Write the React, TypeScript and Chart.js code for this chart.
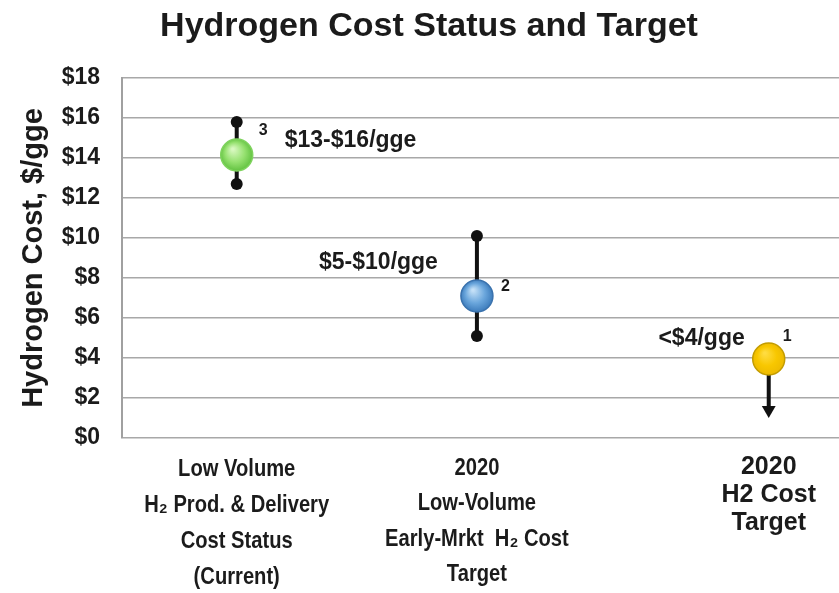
import React, { useEffect, useRef } from "react";
import { Chart, registerables } from "chart.js";

Chart.register(...registerables);

// ---- data ----
const categoryLabels: string[][] = [
  ["Low Volume", "H₂ Prod. & Delivery", "Cost Status", "(Current)"],
  ["2020", "Low-Volume", "Early-Mrkt  H₂ Cost", "Target"],
  ["2020", "H2 Cost", "Target"],
];
const categoryPositions = [16, 49.5, 90.2];
const midValues = [14.15, 7.1, 3.95];
const lowValues = [12.7, 5.1, null as number | null];
const highValues = [15.8, 10.1, null as number | null];
const arrowEndValue = 1.4;
const rangeLabels = ["$13-$16/gge", "$5-$10/gge", "<$4/gge"];
const rankLabels = ["3", "2", "1"];
const yTickValues = [0, 2, 4, 6, 8, 10, 12, 14, 16, 18];

const TITLE = "Hydrogen Cost Status and Target";
const Y_TITLE = "Hydrogen Cost, $/gge";

const SANS = "'Liberation Sans', Arial, sans-serif";
const TEXT = "#1b1b1b";

const circleStyles = [
  { inner: "#d8f8c0", mid: "#96e170", outer: "#5dbf3c", border: "#7fd35e" },
  { inner: "#c4e0f7", mid: "#6aa6dc", outer: "#3877b8", border: "#3a72ad" },
  { inner: "#ffdc40", mid: "#f8c700", outer: "#ecb900", border: "#c39c00" },
];

const labelOffsets = [
  { range: { dx: 48, dy: -14, align: "left" }, rank: { dx: 22, dy: -24 } },
  { range: { dx: -39, dy: -33, align: "right" }, rank: { dx: 24, dy: -9 } },
  { range: { dx: -24, dy: -20, align: "right" }, rank: { dx: 14, dy: -22 } },
];

const catLabelStyles = [
  { size: 24, squeeze: 0.84, first: 31, step: 36 },
  { size: 24, squeeze: 0.84, first: 30, step: 35.5 },
  { size: 25, squeeze: 1, first: 29, step: 28 },
];

export default function App() {
  const ref = useRef<HTMLCanvasElement | null>(null);

  useEffect(() => {
    const canvas = ref.current;
    if (!canvas) return;

    const whiskerSets: any[] = [];
    categoryPositions.forEach((x, i) => {
      const lo = lowValues[i];
      const hi = highValues[i];
      if (lo != null && hi != null) {
        whiskerSets.push({
          type: "line",
          data: [
            { x, y: lo },
            { x, y: hi },
          ],
          borderColor: "#111",
          borderWidth: 4,
          pointRadius: 6,
          pointBackgroundColor: "#111",
          pointBorderColor: "#111",
          pointBorderWidth: 0,
          order: 2,
        });
      } else {
        whiskerSets.push({
          type: "line",
          data: [
            { x, y: midValues[i] },
            { x, y: arrowEndValue },
          ],
          borderColor: "#111",
          borderWidth: 4,
          pointRadius: [0, 8],
          pointStyle: "triangle",
          pointRotation: 180,
          pointBackgroundColor: "#111",
          pointBorderColor: "#111",
          pointBorderWidth: 0,
          order: 2,
        });
      }
    });

    const circles = {
      type: "scatter",
      data: categoryPositions.map((x, i) => ({ x, y: midValues[i] })),
      pointRadius: 16,
      pointBorderWidth: 1.5,
      pointBorderColor: circleStyles.map((s) => s.border),
      pointBackgroundColor: (ctx: any) => {
        const chart = ctx.chart;
        const i = ctx.dataIndex;
        const s = circleStyles[i];
        if (!chart.chartArea || i == null || !chart.scales.x) return s.mid;
        const px = chart.scales.x.getPixelForValue(categoryPositions[i]);
        const py = chart.scales.y.getPixelForValue(midValues[i]);
        const g = chart.ctx.createRadialGradient(px - 4, py - 6, 1, px, py, 17);
        g.addColorStop(0, s.inner);
        g.addColorStop(0.55, s.mid);
        g.addColorStop(1, s.outer);
        return g;
      },
      order: 0,
    };

    const annotations = {
      id: "annotations",
      afterDatasetsDraw(chart: any) {
        const c = chart.ctx;
        const xs = chart.scales.x;
        const ys = chart.scales.y;
        const area = chart.chartArea;
        c.save();
        c.fillStyle = TEXT;
        c.textBaseline = "middle";
        categoryPositions.forEach((x, i) => {
          const px = xs.getPixelForValue(x);
          const py = ys.getPixelForValue(midValues[i]);
          const o = labelOffsets[i];
          c.font = `bold 23px ${SANS}`;
          c.textAlign = o.range.align;
          c.fillText(rangeLabels[i], px + o.range.dx, py + o.range.dy);
          c.font = `bold 16px ${SANS}`;
          c.textAlign = "left";
          c.fillText(rankLabels[i], px + o.rank.dx, py + o.rank.dy);

          // category labels
          const st = catLabelStyles[i];
          c.font = `bold ${st.size}px ${SANS}`;
          c.textAlign = "center";
          categoryLabels[i].forEach((line, k) => {
            c.save();
            c.translate(px, area.bottom + st.first + k * st.step);
            c.scale(st.squeeze, 1);
            c.fillText(line, 0, 0);
            c.restore();
          });
        });
        // chart title
        c.font = `bold 34px ${SANS}`;
        c.textAlign = "center";
        c.fillText(TITLE, 429, 27);
        c.restore();
      },
    };

    const chart = new Chart(canvas, {
      type: "scatter",
      data: { datasets: [circles, ...whiskerSets] as any },
      options: {
        animation: false,
        responsive: false,
        maintainAspectRatio: false,
        layout: { autoPadding: false, padding: { top: 78, left: 0, right: 0, bottom: 0 } },
        plugins: {
          legend: { display: false },
          tooltip: { enabled: false },
          title: { display: false },
        },
        scales: {
          x: {
            type: "linear",
            min: 0,
            max: 100,
            afterBuildTicks: (scale: any) => {
              scale.ticks = categoryPositions.map((v) => ({ value: v }));
            },
            afterFit: (scale: any) => {
              scale.height = 155;
            },
            grid: { display: false, drawTicks: false },
            border: { display: false },
            ticks: { display: false },
          },
          y: {
            type: "linear",
            min: 0,
            max: 18,
            afterBuildTicks: (scale: any) => {
              scale.ticks = yTickValues.map((v) => ({ value: v }));
            },
            afterFit: (scale: any) => {
              scale.width = 122;
            },
            grid: { color: "#a8a8a8", lineWidth: 1.5, drawTicks: false },
            border: { display: true, color: "#a0a0a0", width: 2 },
            ticks: {
              padding: 22,
              color: TEXT,
              font: { family: SANS, size: 23, weight: "bold" },
              callback: (v: any) => "$" + v,
            },
            title: {
              display: true,
              text: Y_TITLE,
              color: TEXT,
              font: { family: SANS, size: 29, weight: "bold" },
              padding: { top: 17, bottom: 0 },
            },
          },
        },
      } as any,
      plugins: [annotations],
    });

    return () => chart.destroy();
  }, []);

  return (
    <div style={{ position: "fixed", left: 0, top: 0, width: 839, height: 593, background: "#fff" }}>
      <canvas ref={ref} width={839} height={593} style={{ display: "block" }} />
    </div>
  );
}
